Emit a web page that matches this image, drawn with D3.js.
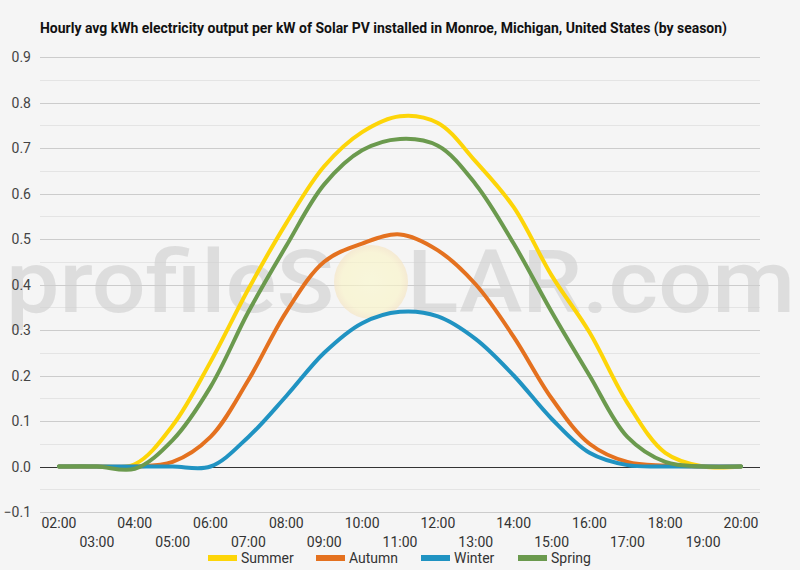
<!DOCTYPE html>
<html>
<head>
<meta charset="utf-8">
<script src="https://cdn.jsdelivr.net/npm/d3@7"></script>
<style>
  html, body { margin: 0; padding: 0; background: #f5f5f5; }
  svg { display: block; font-family: Roboto, "Noto Sans", sans-serif; }
</style>
</head>
<body>
<div id="chart"></div>
<script>
// chart size
const width = 800;
const height = 570;

// hours on the x axis
const hours = ["02:00", "03:00", "04:00", "05:00", "06:00", "07:00", "08:00", "09:00", "10:00",
  "11:00", "12:00", "13:00", "14:00", "15:00", "16:00", "17:00", "18:00", "19:00", "20:00"];

// seasonal values (kWh per kW)
const summer = [0, 0, 0.005, 0.09, 0.23, 0.39, 0.535, 0.66, 0.735, 0.77, 0.755, 0.67, 0.57, 0.42, 0.295, 0.14, 0.03, 0, 0];
const autumn = [0, 0, 0, 0.01, 0.065, 0.19, 0.34, 0.45, 0.49, 0.51, 0.475, 0.4, 0.285, 0.15, 0.05, 0.01, 0.002, 0, 0];
const winter = [0, 0, 0, 0, 0, 0.065, 0.155, 0.25, 0.315, 0.34, 0.33, 0.28, 0.2, 0.105, 0.03, 0.003, 0, 0, 0];
const spring = [0, 0, -0.005, 0.058, 0.175, 0.34, 0.485, 0.62, 0.695, 0.72, 0.705, 0.62, 0.49, 0.34, 0.2, 0.065, 0.01, 0, 0];

const seriesNames = ["Summer", "Autumn", "Winter", "Spring"];
const seriesColors = ["#fdd508", "#e4711f", "#2093c2", "#6b9a4e"];
const yTicks = [-0.1, 0, 0.1, 0.2, 0.3, 0.4, 0.5, 0.6, 0.7, 0.8, 0.9];

const series = [summer, autumn, winter, spring].map((v, i) => ({
  name: seriesNames[i], color: seriesColors[i], values: v
}));

const plot = { left: 40, right: 760, top: 57, bottom: 512 };

const svg = d3.select("#chart").append("svg")
  .attr("width", width)
  .attr("height", height);

svg.append("rect").attr("width", width).attr("height", height).attr("fill", "#f5f5f5");

// scales
const x = d3.scalePoint().domain(hours).range([plot.left, plot.right]).padding(0.5);
const y = d3.scaleLinear().domain([-0.1, 0.9]).range([plot.bottom, plot.top]);

// minor grid
const minor = d3.range(-0.05, 0.9, 0.1);
svg.append("g").selectAll("line").data(minor).join("line")
  .attr("x1", plot.left).attr("x2", plot.right)
  .attr("y1", d => Math.round(y(d)) + 0.5).attr("y2", d => Math.round(y(d)) + 0.5)
  .attr("stroke", "#e4e4e4");

// major grid
svg.append("g").selectAll("line").data(yTicks).join("line")
  .attr("x1", plot.left).attr("x2", plot.right)
  .attr("y1", d => Math.round(y(d)) + 0.5).attr("y2", d => Math.round(y(d)) + 0.5)
  .attr("stroke", d => d === 0 ? "#333" : "#cccccc");

// watermark, behind the lines
const defs = svg.append("defs");
const grad = defs.append("radialGradient").attr("id", "sun");
grad.append("stop").attr("offset", "0%").attr("stop-color", "#fbf8cc");
grad.append("stop").attr("offset", "80%").attr("stop-color", "#faf4c6");
grad.append("stop").attr("offset", "100%").attr("stop-color", "#f6e4c0");

const wm = svg.append("g").attr("opacity", 0.75);
wm.append("circle").attr("cx", 371).attr("cy", 282).attr("r", 37)
  .attr("fill", "url(#sun)").attr("opacity", 0.85);
wm.append("text")
  .attr("x", 6).attr("y", 312)
  .attr("font-size", 88).attr("font-weight", 500)
  .attr("fill", "#cfcfcf").attr("opacity", 0.8)
  .attr("textLength", 328).attr("lengthAdjust", "spacingAndGlyphs")
  .text("profileS");
wm.append("text")
  .attr("x", 407).attr("y", 312)
  .attr("font-size", 88).attr("font-weight", 500)
  .attr("fill", "#cfcfcf").attr("opacity", 0.8)
  .attr("textLength", 388).attr("lengthAdjust", "spacingAndGlyphs")
  .text("LAR.com");

// y labels
svg.append("g").selectAll("text").data(yTicks).join("text")
  .attr("x", 31).attr("y", d => y(d) + 5)
  .attr("text-anchor", "end")
  .attr("font-size", 14)
  .attr("fill", "#444")
  .text(d => d3.format(".1f")(d));

// x labels, alternating rows
svg.append("g").selectAll("text").data(hours).join("text")
  .attr("x", d => x(d))
  .attr("y", (d, i) => i % 2 === 0 ? 528 : 547)
  .attr("text-anchor", "middle")
  .attr("font-size", 14)
  .attr("fill", "#333")
  .text(d => d);

// lines
const line = d3.line()
  .x((d, i) => x(hours[i]))
  .y(d => y(d))
  .curve(d3.curveCatmullRom.alpha(0.5));

svg.append("g").selectAll("path").data(series).join("path")
  .attr("d", d => line(d.values))
  .attr("fill", "none")
  .attr("stroke", d => d.color)
  .attr("stroke-width", 4)
  .attr("stroke-linejoin", "round")
  .attr("stroke-linecap", "round");

// title
svg.append("text")
  .attr("x", 40).attr("y", 33)
  .attr("font-size", 14).attr("font-weight", "bold")
  .attr("fill", "#111")
  .attr("textLength", 687).attr("lengthAdjust", "spacingAndGlyphs")
  .text("Hourly avg kWh electricity output per kW of Solar PV installed in Monroe, Michigan, United States (by season)");

// legend
const legendX = [208, 316, 421, 518];
const legend = svg.append("g").selectAll("g").data(series).join("g")
  .attr("transform", (d, i) => `translate(${legendX[i]},558)`);
legend.append("rect").attr("x", 0).attr("y", -3).attr("width", 29).attr("height", 6)
  .attr("fill", d => d.color);
legend.append("text").attr("x", 33).attr("y", 5)
  .attr("font-size", 14).attr("fill", "#333")
  .text(d => d.name);
</script>
</body>
</html>
